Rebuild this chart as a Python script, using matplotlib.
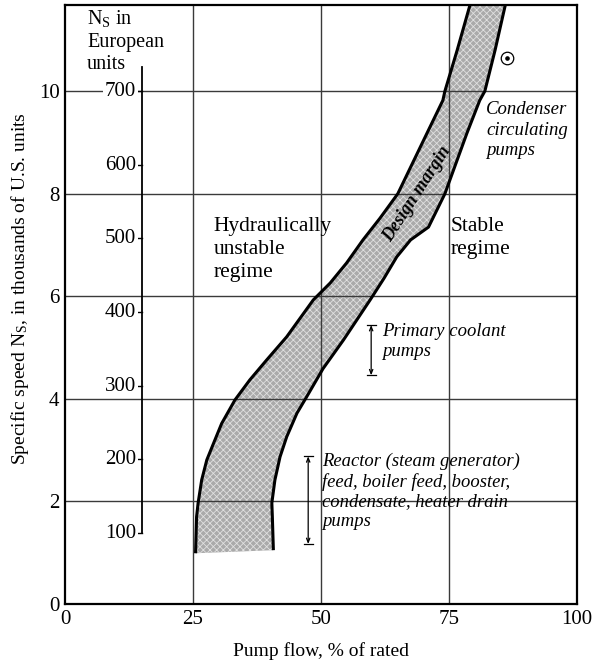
import numpy as np
import matplotlib
matplotlib.use('Agg')
import matplotlib.pyplot as plt

plt.rcParams['font.family'] = ['Liberation Serif', 'DejaVu Serif']
plt.rcParams['mathtext.fontset'] = 'custom'
plt.rcParams['mathtext.rm'] = 'Liberation Serif'
plt.rcParams['mathtext.it'] = 'Liberation Serif:italic'
plt.rcParams['hatch.linewidth'] = 0.6

# limite izquierdo de la banda (flujo %, Ns miles US)
izq_x = [25.5, 25.7, 26.0, 26.7, 27.7, 29.0, 30.6, 33.2, 36.1, 39.4, 43.3, 48.5, 51.8, 55.0, 58.2, 61.5, 65.0, 70.7, 73.8, 74.2, 76.6, 79.1]
izq_y = [0.99, 1.70, 1.97, 2.42, 2.81, 3.13, 3.52, 3.98, 4.37, 4.76, 5.21, 5.93, 6.26, 6.65, 7.10, 7.52, 8.00, 9.18, 9.82, 10.0, 10.8, 11.68]
# limite derecho de la banda
der_x = [40.7, 40.5, 40.4, 41.0, 42.0, 43.3, 45.3, 47.2, 50.4, 54.4, 59.6, 62.3, 64.8, 67.5, 71.0, 74.2, 78.5, 81.0, 82.0, 84.0, 86.0]
der_y = [1.05, 1.70, 1.97, 2.42, 2.87, 3.26, 3.72, 4.04, 4.59, 5.15, 5.93, 6.35, 6.77, 7.10, 7.35, 8.00, 9.18, 9.82, 10.0, 10.8, 11.68]

# escala europea
eu_valores = [100, 200, 300, 400, 500, 600, 700]
eu_pos = [1.38, 2.82, 4.25, 5.69, 7.13, 8.56, 10.0]
eu_tope = 10.47

x_ticks = [0, 25, 50, 75, 100]
y_ticks = [0, 2, 4, 6, 8, 10]

fig = plt.figure(figsize=(5.93, 6.61), dpi=100)
ax = fig.add_axes([0.1096, 0.0862, 0.8634, 0.9062])
ax.set_xlim(0, 100)
ax.set_ylim(0, 11.68)

# banda de margen de diseño (gris con trama fina)
poli_x = izq_x + der_x[::-1]
poli_y = izq_y + der_y[::-1]
ax.fill(poli_x, poli_y, facecolor='#aaaaaa', edgecolor='none', zorder=1)
ax.fill(poli_x, poli_y, facecolor='none', edgecolor='#e0e0e0', lw=0, hatch='xxxxx', zorder=1.5)

# cuadrícula
for gx in [25, 50, 75]:
    ax.axvline(gx, color='#3a3a3a', lw=1.0, zorder=2)
for gy in [2, 4, 6, 8, 10]:
    ax.axhline(gy, color='#3a3a3a', lw=1.0, zorder=2)

ax.plot(izq_x, izq_y, color='black', lw=2.2, zorder=3, solid_capstyle='butt')
ax.plot(der_x, der_y, color='black', lw=2.2, zorder=3, solid_capstyle='butt')

for s in ax.spines.values():
    s.set_linewidth(1.6)
ax.set_xticks(x_ticks)
ax.set_yticks(y_ticks)
ax.tick_params(length=0, labelsize=15, pad=4)
ax.set_xlabel('Pump flow, % of rated', fontsize=14, labelpad=10)
ax.set_ylabel('Specific speed N$_\\mathrm{S}$, in thousands of U.S. units', fontsize=14)
ax.yaxis.set_label_coords(-0.067, 0.527)

# eje en unidades europeas
ax.plot([15, 15], [eu_pos[0], eu_tope], color='black', lw=1.3, zorder=4)
for v, p in zip(eu_valores, eu_pos):
    ax.plot([14.2, 15], [p, p], color='black', lw=1.0, zorder=4)
    ax.text(13.9, p, str(v), ha='right', va='center', fontsize=15, zorder=5,
            bbox=dict(facecolor='white', edgecolor='none', pad=1))
ax.text(4.3, 11.62, 'N$_\\mathrm{S}$ in\nEuropean\nunits', ha='left', va='top',
        fontsize=14.5, linespacing=1.25, zorder=5)

# textos de regiones
ax.text(29.0, 7.55, 'Hydraulically\nunstable\nregime', ha='left', va='top',
        fontsize=15.5, linespacing=1.3, zorder=5)
ax.text(75.4, 7.55, 'Stable\nregime', ha='left', va='top',
        fontsize=15.5, linespacing=1.3, zorder=5)
ax.text(68.8, 8.0, 'Design margin', ha='center', va='center', rotation=57,
        fontsize=13, fontweight='bold', fontstyle='italic', zorder=5)
ax.text(82.3, 9.8, 'Condenser\ncirculating\npumps', ha='left', va='top',
        fontsize=13.5, fontstyle='italic', linespacing=1.25, zorder=5)
ax.text(62.0, 5.48, 'Primary coolant\npumps', ha='left', va='top',
        fontsize=13.5, fontstyle='italic', linespacing=1.25, zorder=5)
ax.text(50.2, 2.95, 'Reactor (steam generator)\nfeed, boiler feed, booster,\ncondensate, heater drain\npumps',
        ha='left', va='top', fontsize=13.4, fontstyle='italic', linespacing=1.2, zorder=5)

# rangos con flechas
for bx, y0, y1 in [(59.8, 4.46, 5.44), (47.5, 1.17, 2.88)]:
    ax.annotate('', xy=(bx, y0), xytext=(bx, y1),
                arrowprops=dict(arrowstyle='<->,head_length=0.3,head_width=0.12', lw=0.9, color='black',
                                shrinkA=0, shrinkB=0), zorder=5)
    ax.plot([bx - 0.9, bx + 0.9], [y0, y0], color='black', lw=0.9, zorder=5)
    ax.plot([bx - 0.9, bx + 0.9], [y1, y1], color='black', lw=0.9, zorder=5)

# símbolo de punto en círculo
ax.plot([86.3], [10.64], marker='o', ms=9, mfc='white', mec='black', mew=0.9, zorder=5)
ax.plot([86.3], [10.64], marker='o', ms=2.3, color='black', zorder=6)

fig.savefig('out.png', dpi=100)
